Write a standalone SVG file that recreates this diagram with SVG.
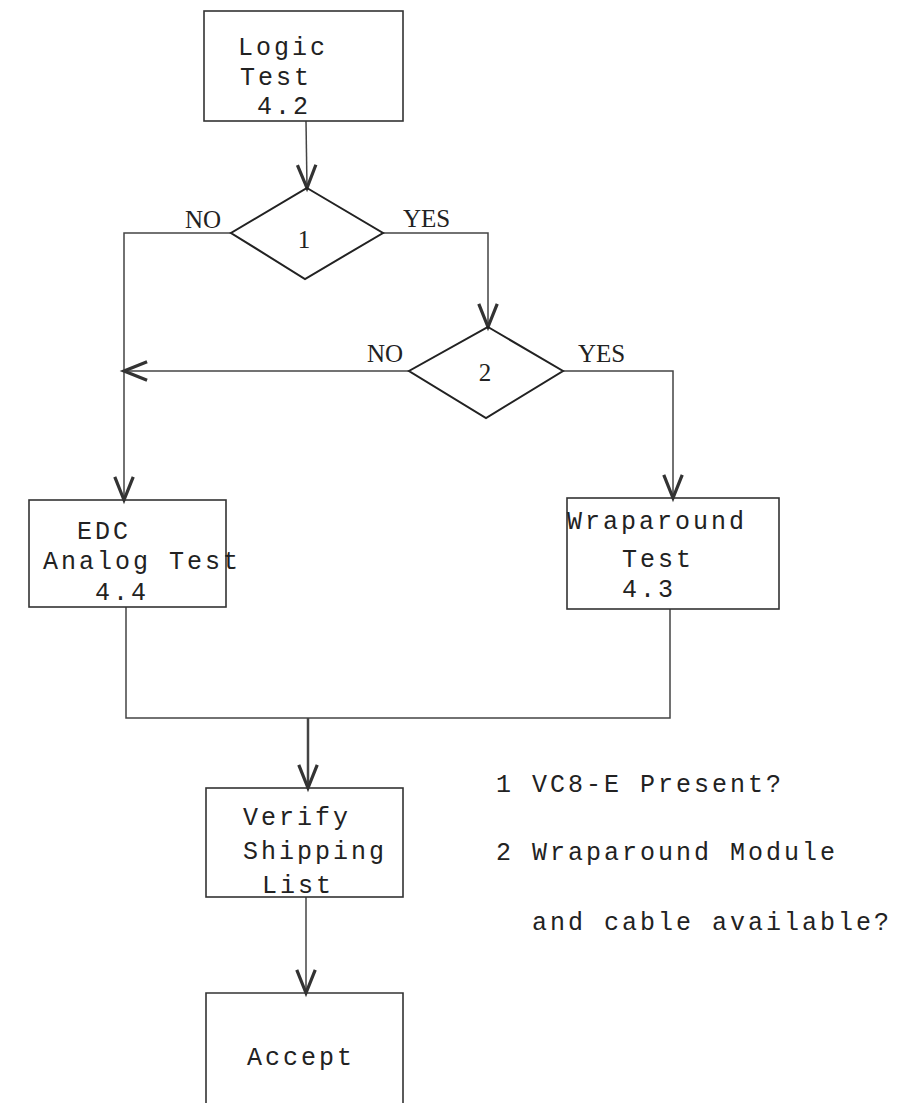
<svg xmlns="http://www.w3.org/2000/svg" width="912" height="1103" viewBox="0 0 912 1103">
<style>
.box{fill:none;stroke:#333;stroke-width:1.6}
.dia{fill:none;stroke:#222;stroke-width:2}
.ln{fill:none;stroke:#444;stroke-width:1.5}
.t{font-family:"Liberation Mono",monospace;font-size:25px;letter-spacing:3px;fill:#222}
.s{font-family:"Liberation Serif",serif;font-size:25px;fill:#222}
</style>
<defs>
<marker id="ah" markerUnits="userSpaceOnUse" markerWidth="30" markerHeight="30" refX="0" refY="0" viewBox="-22 -12 26 24" orient="auto" overflow="visible">
<path d="M-20,-8 L0,0 L-20,8" fill="none" stroke="#333" stroke-width="2.8"/>
</marker>
</defs>
<rect width="912" height="1103" fill="#fff"/>
<g id="connectors">
<path class="ln" d="M306,121 L307,188" marker-end="url(#ah)"/>
<path class="ln" d="M231,233 L124,233 L124,500" marker-end="url(#ah)"/>
<path class="ln" d="M383,233 L488,233 L488,327" marker-end="url(#ah)"/>
<path class="ln" d="M409,371 L124,371" marker-end="url(#ah)"/>
<path class="ln" d="M563,371 L673,371 L673,498" marker-end="url(#ah)"/>
<path class="ln" d="M126,607 L126,718 L670,718 L670,609"/>
<path class="ln" style="stroke-width:2.5" d="M308,718 L308,788" marker-end="url(#ah)"/>
<path class="ln" d="M306,897 L306,993" marker-end="url(#ah)"/>
</g>
<g id="logic-test">
<rect class="box" x="204" y="11" width="199" height="110"/>
<text class="t" x="238" y="55">Logic</text>
<text class="t" x="240" y="85">Test</text>
<text class="t" x="257" y="114">4.2</text>
</g>
<g id="decision-1">
<path class="dia" d="M307,188 L383,233 L305,279 L231,233 Z"/>
<text class="s" x="304" y="248" text-anchor="middle">1</text>
<text class="s" x="185" y="228">NO</text>
<text class="s" x="403" y="227">YES</text>
</g>
<g id="decision-2">
<path class="dia" d="M488,327 L563,371 L486,418 L409,371 Z"/>
<text class="s" x="485" y="381" text-anchor="middle">2</text>
<text class="s" x="367" y="362">NO</text>
<text class="s" x="578" y="362">YES</text>
</g>
<g id="edc-analog-test">
<rect class="box" x="29" y="500" width="197" height="107"/>
<text class="t" x="77" y="539">EDC</text>
<text class="t" x="43" y="569">Analog Test</text>
<text class="t" x="95" y="600">4.4</text>
</g>
<g id="wraparound-test">
<rect class="box" x="567" y="498" width="212" height="111"/>
<text class="t" x="567" y="529">Wraparound</text>
<text class="t" x="622" y="567">Test</text>
<text class="t" x="622" y="597">4.3</text>
</g>
<g id="verify-shipping-list">
<rect class="box" x="206" y="788" width="197" height="109"/>
<text class="t" x="243" y="825">Verify</text>
<text class="t" x="243" y="859">Shipping</text>
<text class="t" x="262" y="893">List</text>
</g>
<g id="accept">
<path class="box" d="M206,1110 L206,993 L403,993 L403,1110"/>
<text class="t" x="247" y="1065">Accept</text>
</g>
<g id="legend">
<text class="t" x="496" y="792">1 VC8-E Present?</text>
<text class="t" x="496" y="860">2 Wraparound Module</text>
<text class="t" x="532" y="930">and cable available?</text>
</g>
</svg>
